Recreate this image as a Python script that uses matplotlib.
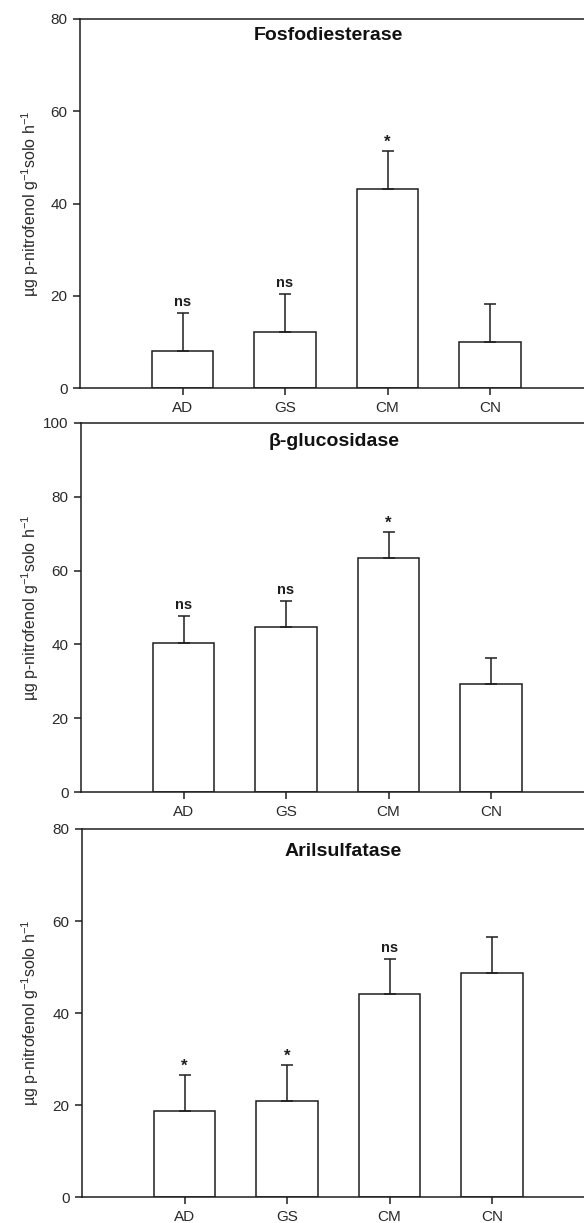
import matplotlib
matplotlib.use("Agg")
import matplotlib.pyplot as plt

plt.rcParams['font.family'] = ['Liberation Sans', 'DejaVu Sans']
plt.rcParams['mathtext.default'] = 'regular'

# ---- data ----
categories = ["AD", "GS", "CM", "CN"]

titles = ["Fosfodiesterase", "β-glucosidase", "Arilsulfatase"]

fosfo_mean = [8.0, 12.2, 43.2, 9.9]
fosfo_err = [8.2, 8.2, 8.1, 8.3]
fosfo_sig = ["ns", "ns", "*", ""]

gluco_mean = [40.5, 44.6, 63.4, 29.2]
gluco_err = [7.2, 7.1, 7.1, 7.2]
gluco_sig = ["ns", "ns", "*", ""]

aril_mean = [18.7, 21.0, 44.1, 48.7]
aril_err = [7.9, 7.7, 7.7, 7.8]
aril_sig = ["*", "*", "ns", ""]

ymax = [80, 100, 80]
ytick_step = 20
ylabel = r'µg p-nitrofenol g$^{-1}$solo h$^{-1}$'

# ---- layout (pixels) ----
W, H = 584, 1223
boxes = [  # left, top, bottom (px)
    (80, 19, 388),
    (81, 422.7, 792.3),
    (82, 829, 1197.3),
]
axw_px = 512.5
title_pos = [(2.42, 76.5), (2.47, 94.8), (2.55, 75.2)]

ink = '#1e1e1e'
fig = plt.figure(figsize=(W / 100, H / 100), dpi=100)

panels = [
    (fosfo_mean, fosfo_err, fosfo_sig),
    (gluco_mean, gluco_err, gluco_sig),
    (aril_mean, aril_err, aril_sig),
]

xpos = list(range(1, len(categories) + 1))

for i, (means, errs, sigs) in enumerate(panels):
    left, top, bottom = boxes[i]
    ax = fig.add_axes([left / W, 1 - bottom / H, axw_px / W, (bottom - top) / H])
    ax.bar(xpos, means, width=0.6, color='white', edgecolor=ink, linewidth=1.1, zorder=2)
    ax.errorbar(xpos, means, yerr=[[0] * len(errs), errs], fmt='none',
                ecolor=ink, elinewidth=1.1, capsize=4.2, capthick=1.1, zorder=3)
    for x, m, e, s in zip(xpos, means, errs, sigs):
        if s:
            ax.annotate(s, (x, m + e), xytext=(0, 3 if s == "ns" else 1),
                        textcoords='offset points', ha='center', va='bottom',
                        fontsize=10.5 if s == "ns" else 12, fontweight='bold', color=ink)
    ax.set_xlim(0, 5)
    ax.set_ylim(0, ymax[i])
    ax.set_yticks(range(0, ymax[i] + 1, ytick_step))
    ax.set_xticks(xpos)
    ax.set_xticklabels(categories)
    ax.tick_params(direction='out', length=5, width=1.1, colors=ink,
                   labelsize=11, labelcolor='#2a2a2a', pad=4)
    for sp in ax.spines.values():
        sp.set_linewidth(1.1)
        sp.set_color(ink)
    ax.set_ylabel(ylabel, fontsize=11.5, color='#2a2a2a')
    ax.yaxis.set_label_coords((30 - left) / axw_px, 0.5)
    ax.yaxis.label.set_va('center')
    tx, ty = title_pos[i]
    ax.text(tx, ty, titles[i], ha='center', va='center', fontsize=14,
            fontweight='bold', color='#111111')

fig.savefig('out.png', dpi=100)
